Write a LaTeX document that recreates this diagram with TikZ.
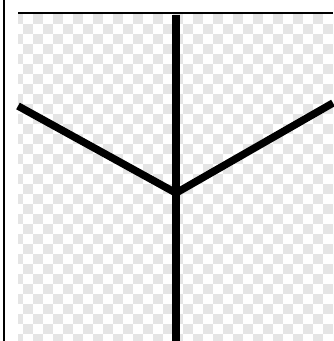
\documentclass[tikz,border=0pt]{standalone}
\usetikzlibrary{calc}
\definecolor{checkgray}{RGB}{229,229,229}

\begin{document}
\begin{tikzpicture}[
  x=0.75pt, y=-0.75pt,
  frameline/.style={line width=1.6pt, black},
  branch/.style={line width=5.6pt, black}
]
  \useasboundingbox (0,0) rectangle (333,341);
  \fill[white] (0,0) rectangle (333,341);
  % checkerboard
  \begin{scope}
    \clip (18,15) rectangle (333,341);
    \foreach \i in {1,...,33} {
      \foreach \j in {1,...,34} {
        \pgfmathtruncatemacro{\parity}{mod(\i+\j,2)}
        \ifnum\parity=0
          \fill[checkgray] (3+10*\i,4+10*\j) rectangle ++(10,10);
        \fi
      }
    }
  \end{scope}
  \draw[frameline] (4,0) -- (4,341);
  \draw[frameline] (18,13) -- (333,13);
  % the three branches
  \coordinate (hub) at (176,193);
  \coordinate (top) at (176,15);
  \coordinate (bottom) at (176,341);
  \coordinate (left) at (18,106);
  \coordinate (right) at (333,103);
  \draw[branch] (top) -- (bottom);
  \draw[branch] (left) -- (hub) -- (right);
\end{tikzpicture}
\end{document}
